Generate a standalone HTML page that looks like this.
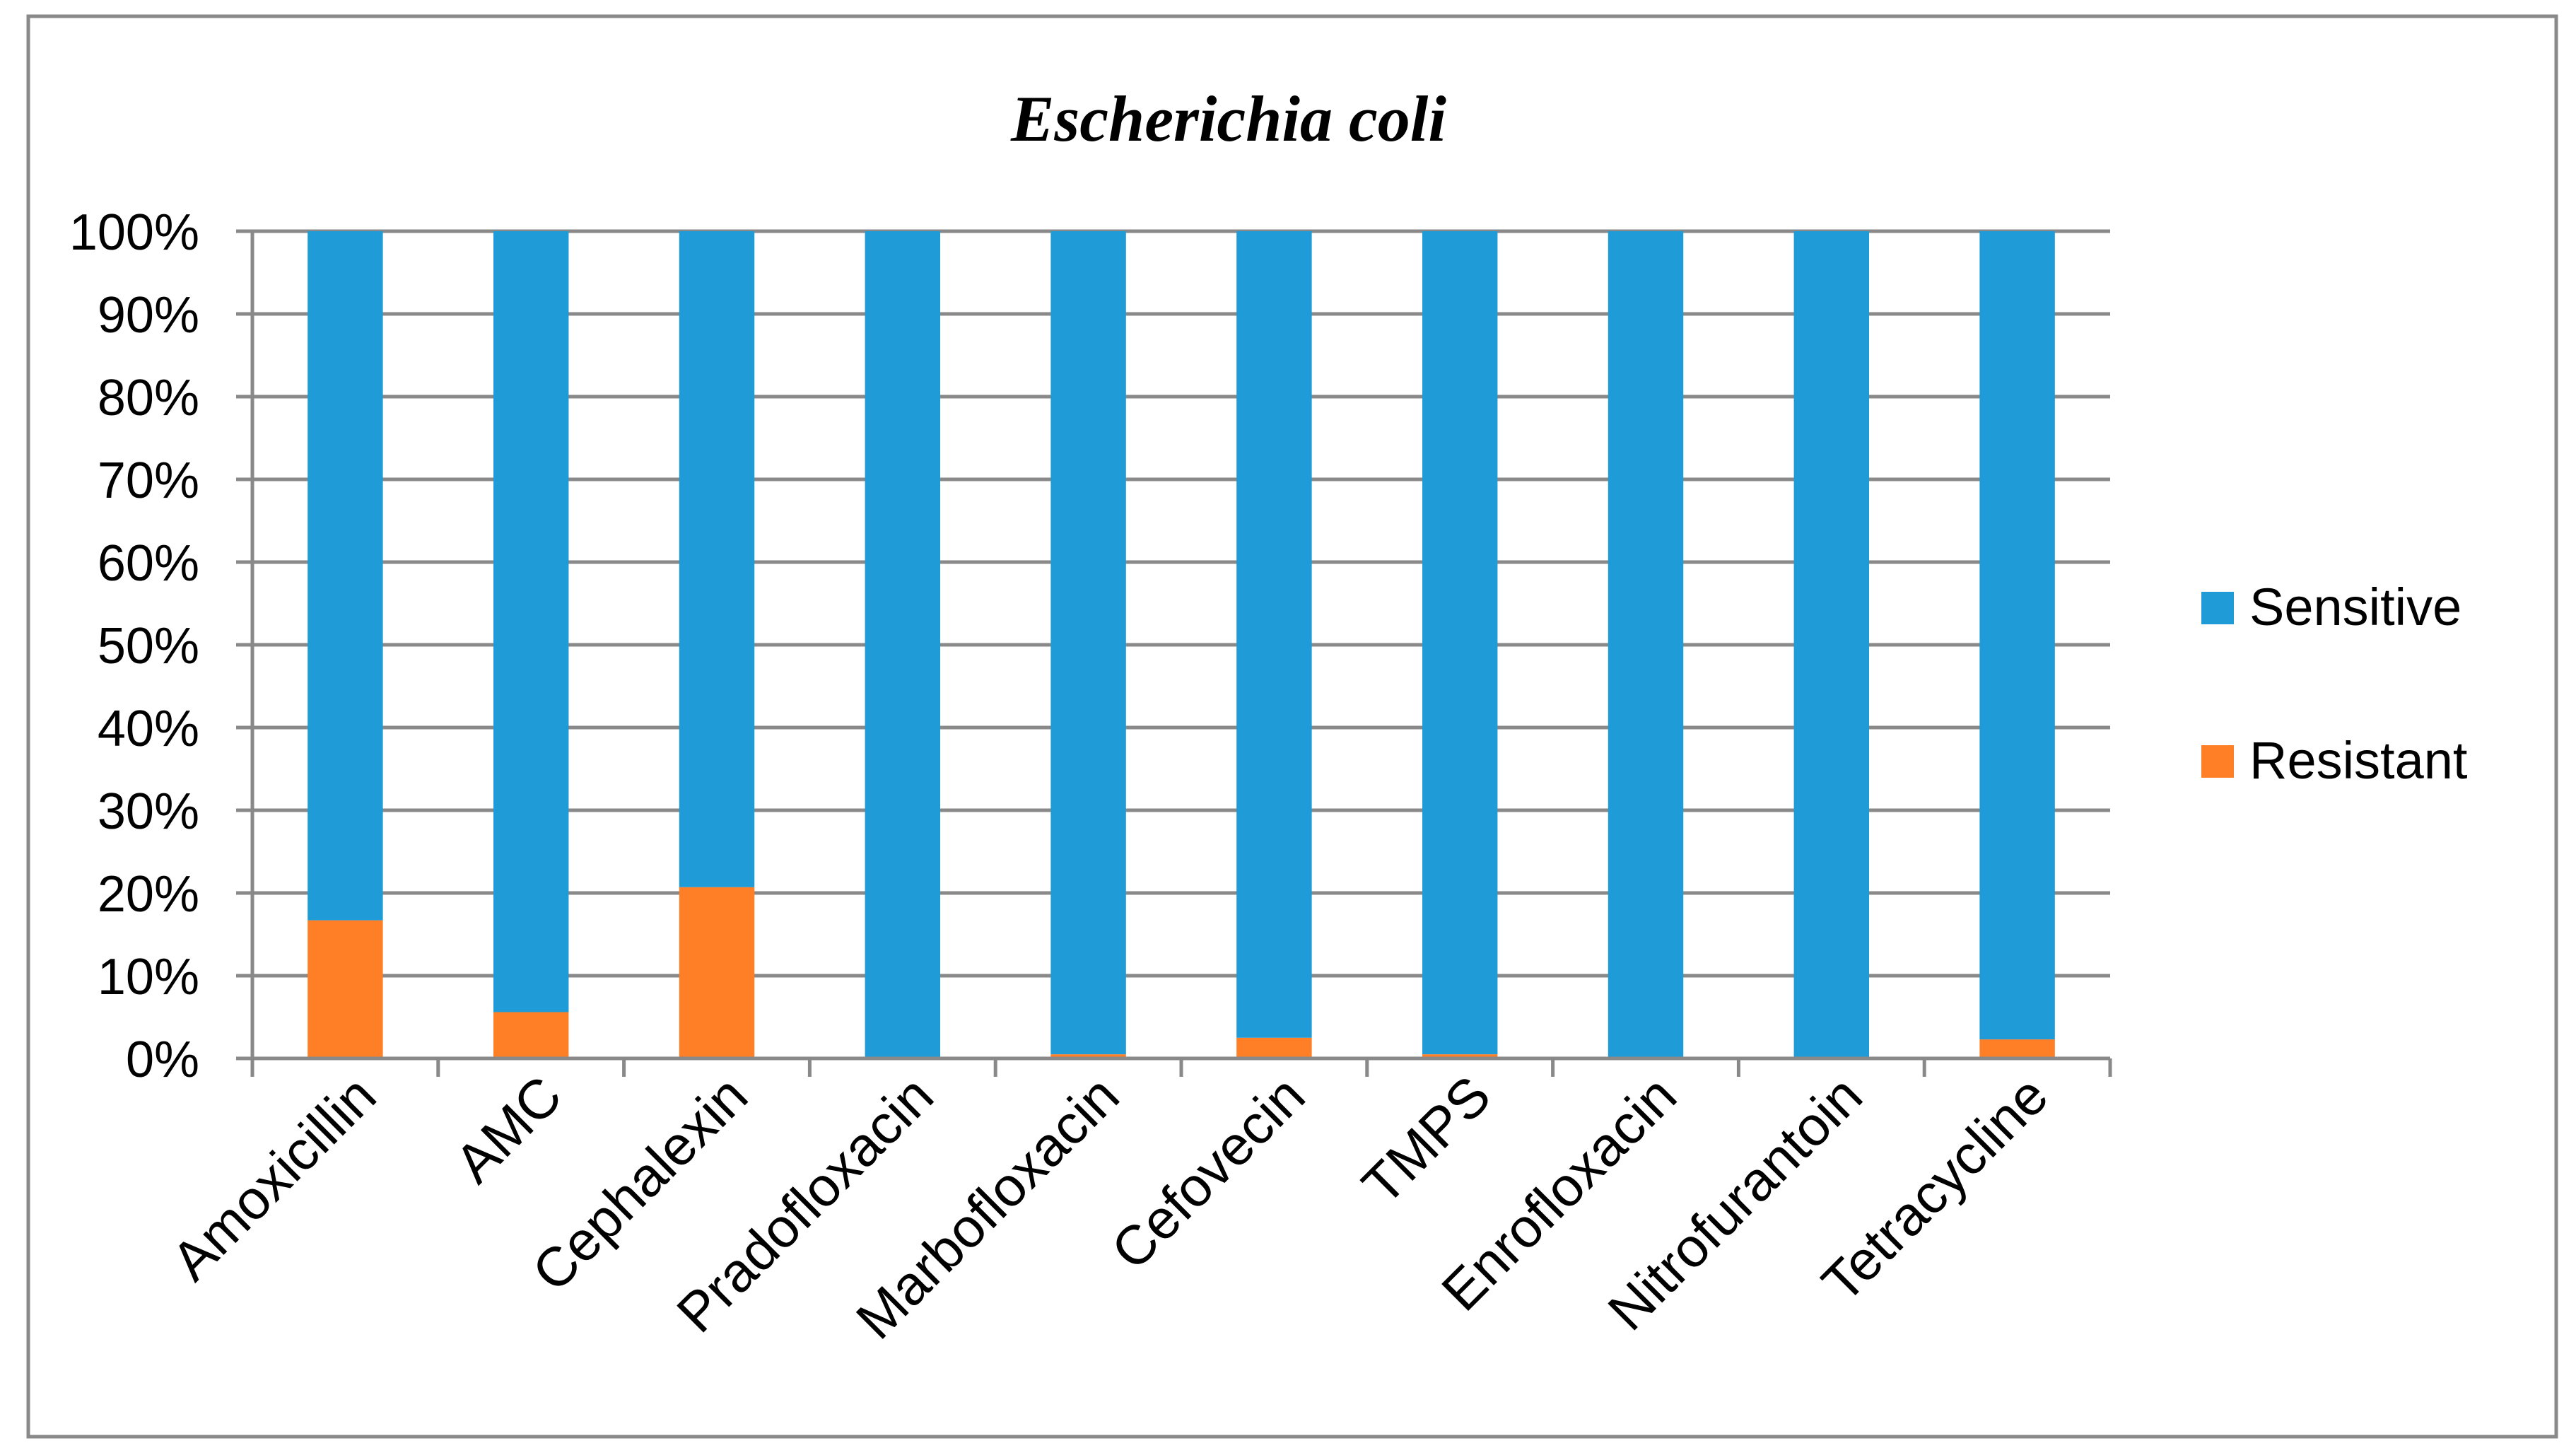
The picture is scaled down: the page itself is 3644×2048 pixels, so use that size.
<!DOCTYPE html>
<html><head><meta charset="utf-8"><style>
html,body{margin:0;padding:0;background:#fff;}
svg{display:block;font-family:"Liberation Sans",sans-serif;}
</style></head><body>
<svg id="chart" width="3644" height="2048" viewBox="0 0 3644 2048">
<rect x="40" y="23" width="3576" height="2009" fill="#fff" stroke="#898989" stroke-width="5"/>
<text x="1738" y="199" text-anchor="middle" font-family="Liberation Serif, serif" font-style="italic" font-weight="bold" font-size="92">Escherichia coli</text>
<g id="grid"></g>
<g id="bars"></g>
<g id="axes"></g>
<g>
<g>
<rect x="3114" y="837" width="46" height="46" fill="#1F9BD7"/>
<text x="3182" y="884" font-size="74">Sensitive</text></g>
<g>
<rect x="3114" y="1054" width="46" height="46" fill="#FF7F27"/>
<text x="3182" y="1101" font-size="74">Resistant</text></g>
</g>
</svg>
<script>
const categories = ["Amoxicillin","AMC","Cephalexin","Pradofloxacin","Marbofloxacin","Cefovecin","TMPS","Enrofloxacin","Nitrofurantoin","Tetracycline"];
const resistant = [16.7,5.6,20.7,0,0.5,2.5,0.5,0,0,2.3];
const sensitive = [83.3,94.4,79.3,100,99.5,97.5,99.5,100,100,97.7];
const yTicks = [0,10,20,30,40,50,60,70,80,90,100];
const yTickLabels = ["0%","10%","20%","30%","40%","50%","60%","70%","80%","90%","100%"];

const NS="http://www.w3.org/2000/svg";
const X0=357, X1=2985, Y0=1497, Y1=327;
const catW=(X1-X0)/categories.length, barW=catW*0.405;
const y=v=>Y0-(v/100)*(Y0-Y1);
const xc=i=>X0+catW*(i+0.5);
function mk(tag,attrs,parent){const e=document.createElementNS(NS,tag);for(const k in attrs)e.setAttribute(k,attrs[k]);parent.appendChild(e);return e;}
const grid=document.getElementById('grid'),bars=document.getElementById('bars'),axes=document.getElementById('axes');
yTicks.forEach((t,i)=>{
  const l=mk('line',{x1:334,x2:X1,y1:y(t),y2:y(t),stroke:'#898989','stroke-width':5},grid);
  
  
  const tx=mk('text',{x:282,y:y(t)+26,'text-anchor':'end','font-size':72},axes);
  tx.textContent=yTickLabels[i];
  
  
});
categories.forEach((c,i)=>{
  const r=mk('rect',{x:xc(i)-barW/2,y:y(resistant[i]),width:barW,height:Y0-y(resistant[i]),fill:'#FF7F27'},bars);
  
  
  const s=mk('rect',{x:xc(i)-barW/2,y:y(resistant[i]+sensitive[i]),width:barW,height:y(resistant[i])-y(resistant[i]+sensitive[i]),fill:'#1F9BD7'},bars);
  
  
  const tx=mk('text',{x:0,y:0,'text-anchor':'end','font-size':78,transform:`translate(${xc(i)+48},${Y0+58}) rotate(-45)`},axes);
  tx.textContent=c;
  
  
});
for(let i=0;i<=categories.length;i++){
  const t=mk('line',{x1:X0+catW*i,x2:X0+catW*i,y1:Y0,y2:Y0+26,stroke:'#898989','stroke-width':5},axes);
  
  
}
const ya=mk('line',{x1:X0,x2:X0,y1:Y1,y2:Y0+26,stroke:'#898989','stroke-width':5},axes);


const xa=mk('line',{x1:334,x2:X1,y1:Y0,y2:Y0,stroke:'#898989','stroke-width':5},axes);


</script>
</body></html>
